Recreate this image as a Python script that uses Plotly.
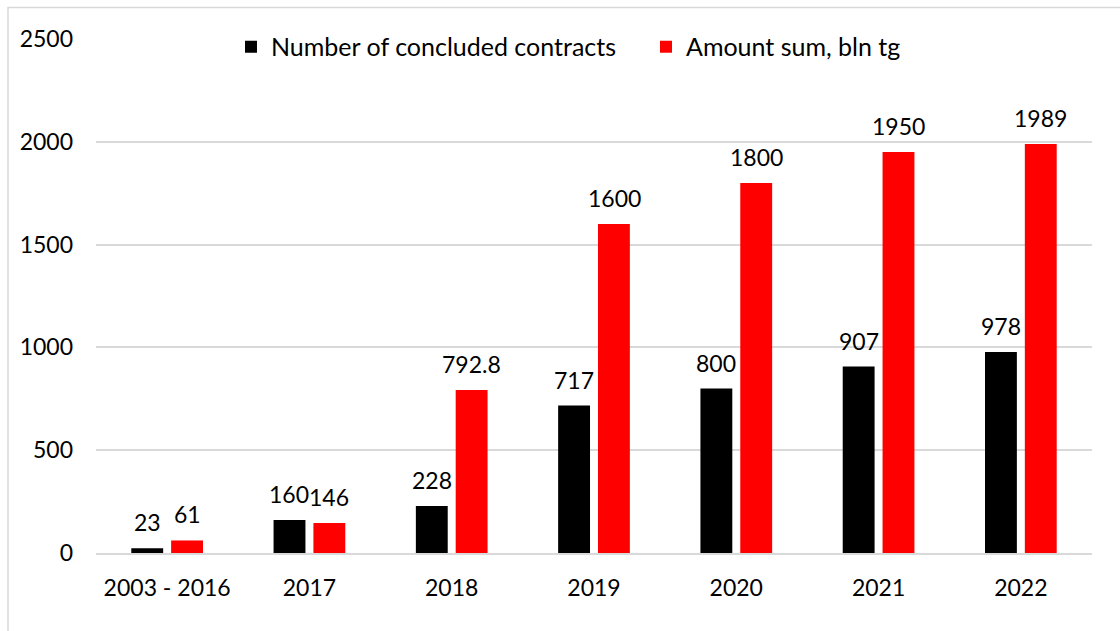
import plotly.graph_objects as go

categories = ["2003 - 2016", "2017", "2018", "2019", "2020", "2021", "2022"]
contracts = [23, 160, 228, 717, 800, 907, 978]
amounts = [61, 146, 792.8, 1600, 1800, 1950, 1989]

series_names = ["Number of concluded contracts", "Amount sum, bln tg"]
series_colors = ["#000000", "#ff0000"]

FONT = "Lato"
FS = 23

fig = go.Figure()
for name, vals, color in zip(series_names, [contracts, amounts], series_colors):
    fig.add_trace(go.Bar(
        x=categories, y=vals, name=name,
        marker=dict(color=color, line=dict(width=0)),
    ))


def fmt(v):
    return f"{v:g}"


# value labels above each bar (x given as category index)
annotations = []
for vals, shift in [(contracts, -20), (amounts, 20)]:
    for i, v in enumerate(vals):
        annotations.append(dict(
            x=i, y=v, text=fmt(v), showarrow=False,
            xanchor="center", yanchor="bottom", xshift=shift, yshift=10,
            font=dict(family=FONT, size=FS, color="#000000"),
        ))

W, H = 1120, 631
L, R, T, B = 96, 28, 38.5, 78
pw, ph = W - L - R, H - T - B

fig.update_layout(
    width=W, height=H,
    margin=dict(l=L, r=R, t=T, b=B),
    paper_bgcolor="white", plot_bgcolor="white",
    font=dict(family=FONT, size=FS, color="#000000"),
    barmode="group", bargap=0.44, bargroupgap=0.2,
    showlegend=True,
    legend=dict(
        orientation="h", x=(231 - L) / pw, y=1 - 8 / ph, xanchor="left", yanchor="middle",
        font=dict(family=FONT, size=25), bgcolor="rgba(0,0,0,0)",
        entrywidth=370, itemsizing="constant",
    ),
    annotations=annotations,
    shapes=[dict(
        type="rect", xref="paper", yref="paper",
        x0=(8 - L) / pw, x1=(1140 - L) / pw,
        y0=-(650 - (H - B)) / ph, y1=1 + (T - 7) / ph,
        line=dict(color="#d9d9d9", width=1.5), fillcolor="rgba(0,0,0,0)", layer="below",
    )],
)
fig.update_xaxes(
    type="category", range=[-0.5, len(categories) - 0.5],
    showgrid=False, showline=True, linecolor="#d9d9d9", linewidth=1.5,
    ticks="", ticklabelstandoff=14, tickfont=dict(family=FONT, size=FS),
)
fig.update_yaxes(
    range=[0, 2500], dtick=500, showgrid=True, gridcolor="#d9d9d9", gridwidth=1.5,
    zeroline=False, showline=False, ticks="", ticklabelstandoff=22,
    tickfont=dict(family=FONT, size=FS),
)

fig.write_html("out.html")
